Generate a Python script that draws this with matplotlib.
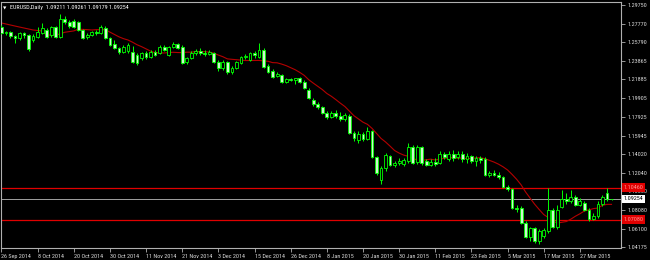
import numpy as np
import matplotlib
matplotlib.use("Agg")
import matplotlib.pyplot as plt
from matplotlib import font_manager
from matplotlib.transforms import blended_transform_factory

# ---------------- data (EURUSD Daily) ----------------
opens = [1.2742, 1.2679, 1.2690, 1.2647, 1.2626, 1.2679, 1.2658, 1.2605, 1.2637, 1.2679,
         1.2711, 1.2658, 1.2742, 1.2637, 1.2827, 1.2795, 1.2806, 1.2795, 1.2711, 1.2637,
         1.2658, 1.2690, 1.2679, 1.2732, 1.2626, 1.2563, 1.2521, 1.2478, 1.2489, 1.2478,
         1.2447, 1.2415, 1.2468, 1.2425, 1.2478, 1.2468, 1.2531, 1.2447, 1.2531, 1.2563,
         1.2531, 1.2373, 1.2415, 1.2468, 1.2489, 1.2468, 1.2457, 1.2468, 1.2373, 1.2309,
         1.2373, 1.2267, 1.2309, 1.2362, 1.2425, 1.2394, 1.2468, 1.2425, 1.2499, 1.2330,
         1.2277, 1.2225, 1.2235, 1.2161, 1.2193, 1.2182, 1.2203, 1.2161, 1.2077, 1.1971,
         1.1929, 1.1897, 1.1834, 1.1791, 1.1834, 1.1802, 1.1770, 1.1802, 1.1622, 1.1548,
         1.1612, 1.1559, 1.1643, 1.1369, 1.1126, 1.1253, 1.1379, 1.1284, 1.1305, 1.1295,
         1.1326, 1.1475, 1.1316, 1.1475, 1.1326, 1.1284, 1.1316, 1.1305, 1.1401, 1.1347,
         1.1401, 1.1369, 1.1401, 1.1347, 1.1379, 1.1326, 1.1358, 1.1347, 1.1179, 1.1200,
         1.1179, 1.1157, 1.1052, 1.1031, 1.0830, 1.0830, 1.0671, 1.0523, 1.0618, 1.0481,
         1.0534, 1.0587, 1.0809, 1.0629, 1.0840, 1.0925, 1.0904, 1.0946, 1.0862, 1.0883,
         1.0809, 1.0714, 1.0745, 1.0872, 1.0988, 1.09211]
highs = [1.2764, 1.2700, 1.2700, 1.2658, 1.2690, 1.2690, 1.2669, 1.2669, 1.2742, 1.2785,
         1.2732, 1.2753, 1.2753, 1.2880, 1.2859, 1.2816, 1.2827, 1.2806, 1.2721, 1.2679,
         1.2700, 1.2711, 1.2764, 1.2753, 1.2637, 1.2605, 1.2531, 1.2552, 1.2573, 1.2542,
         1.2468, 1.2478, 1.2489, 1.2499, 1.2499, 1.2552, 1.2552, 1.2542, 1.2584, 1.2573,
         1.2552, 1.2425, 1.2489, 1.2510, 1.2521, 1.2499, 1.2499, 1.2478, 1.2394, 1.2394,
         1.2383, 1.2330, 1.2383, 1.2436, 1.2457, 1.2478, 1.2489, 1.2573, 1.2521, 1.2351,
         1.2299, 1.2267, 1.2246, 1.2203, 1.2203, 1.2203, 1.2214, 1.2182, 1.2098, 1.1992,
         1.1950, 1.1908, 1.1855, 1.1855, 1.1865, 1.1844, 1.1834, 1.1823, 1.1643, 1.1643,
         1.1633, 1.1686, 1.1654, 1.1379, 1.1274, 1.1411, 1.1390, 1.1326, 1.1358, 1.1358,
         1.1517, 1.1496, 1.1496, 1.1485, 1.1347, 1.1347, 1.1358, 1.1432, 1.1422, 1.1432,
         1.1443, 1.1432, 1.1432, 1.1411, 1.1390, 1.1379, 1.1379, 1.1369, 1.1221, 1.1231,
         1.1210, 1.1168, 1.1073, 1.1041, 1.0862, 1.0851, 1.0692, 1.0629, 1.0629, 1.0608,
         1.0618, 1.1041, 1.0830, 1.0862, 1.1020, 1.0988, 1.1020, 1.0967, 1.0935, 1.0904,
         1.0830, 1.0777, 1.0904, 1.0967, 1.1041, 1.09261]
lows = [1.2669, 1.2658, 1.2626, 1.2573, 1.2605, 1.2626, 1.2489, 1.2584, 1.2626, 1.2669,
        1.2626, 1.2637, 1.2626, 1.2626, 1.2774, 1.2732, 1.2732, 1.2700, 1.2616, 1.2616,
        1.2647, 1.2658, 1.2669, 1.2616, 1.2542, 1.2510, 1.2457, 1.2468, 1.2468, 1.2362,
        1.2341, 1.2394, 1.2404, 1.2415, 1.2436, 1.2457, 1.2489, 1.2436, 1.2521, 1.2510,
        1.2351, 1.2351, 1.2404, 1.2447, 1.2447, 1.2436, 1.2447, 1.2362, 1.2277, 1.2288,
        1.2246, 1.2246, 1.2299, 1.2351, 1.2404, 1.2383, 1.2415, 1.2415, 1.2309, 1.2256,
        1.2203, 1.2214, 1.2151, 1.2151, 1.2172, 1.2140, 1.2151, 1.2087, 1.1982, 1.1908,
        1.1876, 1.1823, 1.1770, 1.1781, 1.1781, 1.1749, 1.1749, 1.1612, 1.1538, 1.1517,
        1.1538, 1.1548, 1.1358, 1.1179, 1.1083, 1.1221, 1.1274, 1.1263, 1.1284, 1.1274,
        1.1305, 1.1295, 1.1295, 1.1284, 1.1274, 1.1274, 1.1274, 1.1295, 1.1347, 1.1326,
        1.1326, 1.1347, 1.1316, 1.1305, 1.1305, 1.1274, 1.1305, 1.1168, 1.1157, 1.1168,
        1.1136, 1.1041, 1.1010, 1.0819, 1.0787, 1.0660, 1.0513, 1.0481, 1.0460, 1.0449,
        1.0513, 1.0566, 1.0618, 1.0608, 1.0830, 1.0872, 1.0883, 1.0851, 1.0851, 1.0798,
        1.0692, 1.0703, 1.0724, 1.0851, 1.0904, 1.09179]
closes = [1.2679, 1.2690, 1.2647, 1.2626, 1.2679, 1.2658, 1.2510, 1.2647, 1.2690, 1.2732,
          1.2637, 1.2742, 1.2637, 1.2827, 1.2795, 1.2753, 1.2742, 1.2711, 1.2626, 1.2658,
          1.2690, 1.2679, 1.2742, 1.2626, 1.2552, 1.2521, 1.2478, 1.2531, 1.2552, 1.2373,
          1.2362, 1.2468, 1.2425, 1.2478, 1.2447, 1.2531, 1.2499, 1.2531, 1.2563, 1.2521,
          1.2362, 1.2415, 1.2468, 1.2489, 1.2468, 1.2457, 1.2478, 1.2373, 1.2309, 1.2373,
          1.2267, 1.2309, 1.2373, 1.2425, 1.2436, 1.2468, 1.2447, 1.2499, 1.2320, 1.2267,
          1.2214, 1.2246, 1.2161, 1.2193, 1.2182, 1.2203, 1.2161, 1.2098, 1.1992, 1.1929,
          1.1897, 1.1834, 1.1791, 1.1834, 1.1802, 1.1770, 1.1813, 1.1622, 1.1570, 1.1612,
          1.1559, 1.1643, 1.1369, 1.1200, 1.1253, 1.1390, 1.1284, 1.1305, 1.1326, 1.1337,
          1.1475, 1.1305, 1.1475, 1.1305, 1.1284, 1.1316, 1.1295, 1.1401, 1.1369, 1.1401,
          1.1358, 1.1401, 1.1347, 1.1379, 1.1326, 1.1358, 1.1337, 1.1179, 1.1200, 1.1179,
          1.1157, 1.1052, 1.1031, 1.0830, 1.0819, 1.0671, 1.0523, 1.0618, 1.0481, 1.0587,
          1.0597, 1.0809, 1.0629, 1.0809, 1.0925, 1.0904, 1.0946, 1.0862, 1.0904, 1.0809,
          1.0714, 1.0745, 1.0872, 1.0946, 1.0921, 1.09254]

ma_period = 11
ma_start = [1.2785, 1.2774, 1.2764, 1.2753, 1.2742, 1.2732, 1.2721, 1.2711, 1.2705, 1.2700]

date_labels = ["26 Sep 2014", "8 Oct 2014", "20 Oct 2014", "30 Oct 2014", "11 Nov 2014",
               "21 Nov 2014", "3 Dec 2014", "15 Dec 2014", "26 Dec 2014", "8 Jan 2015",
               "20 Jan 2015", "30 Jan 2015", "11 Feb 2015", "23 Feb 2015", "5 Mar 2015",
               "17 Mar 2015", "27 Mar 2015"]
bars_per_label = 8

price_ticks = [1.29750, 1.27770, 1.25790, 1.23865, 1.21885, 1.19905, 1.17925,
               1.15945, 1.14020, 1.12040, 1.10060, 1.08080, 1.06100, 1.04175]

hlines = [1.10460, 1.07080]
bid = 1.09254
header = "EURUSD,Daily  1.09211 1.09261 1.09179 1.09254"

# ---------------- font: prefer a narrow face like the terminal's ----------------
names = {f.name for f in font_manager.fontManager.ttflist}
narrow = None
for cand in ["Liberation Sans Narrow", "DejaVu Sans Condensed", "Roboto Condensed",
             "Open Sans Condensed", "Noto Sans Condensed", "Arial Narrow"]:
    if cand in names:
        narrow = cand
        break
if narrow is None:
    for nm in sorted(names):
        if "Narrow" in nm or "Condensed" in nm:
            narrow = nm
            break
if narrow is None:
    narrow = "Roboto" if "Roboto" in names else "DejaVu Sans"
plt.rcParams['font.family'] = [narrow, 'DejaVu Sans']

# ---------------- figure ----------------
W, H = 650, 260
fig = plt.figure(figsize=(W / 100, H / 100), dpi=100, facecolor="black")
ax = fig.add_axes([1 / W, 12 / H, 620 / W, 246 / H], facecolor="black")

# choose a font size so that a date label is about 30 px wide, as in the reference
renderer = fig.canvas.get_renderer()
probe = fig.text(0, 0, "26 Sep 2014", fontsize=10)
wpx = probe.get_window_extent(renderer).width
probe.remove()
fs = min(5.6, 10 * 30.0 / wpx)

n = len(closes)
x = np.arange(n)
o = np.array(opens); h = np.array(highs); l = np.array(lows); c = np.array(closes)

# wicks
ax.vlines(x, l, h, colors="#00ff00", linewidth=0.7, zorder=3)
# bodies
bull = c >= o
bottoms = np.minimum(o, c)
heights = np.maximum(np.abs(c - o), 0.0002)
ax.bar(x[bull], heights[bull], bottom=bottoms[bull], width=0.62,
       color="black", edgecolor="#00ff00", linewidth=0.6, zorder=4)
ax.bar(x[~bull], heights[~bull], bottom=bottoms[~bull], width=0.62,
       color="#ccf5cc", edgecolor="#00ff00", linewidth=0.6, zorder=4)

# moving average
ma = list(ma_start)
for i in range(len(ma_start), n):
    lo = max(0, i - ma_period + 1)
    ma.append(float(np.mean(c[lo:i + 1])))
ax.plot(x, ma, color="#b40000", linewidth=0.8, zorder=2)

# horizontal lines and bid line
for v in hlines:
    ax.axhline(v, color="#e00000", linewidth=0.9, zorder=1)
ax.axhline(bid, color="#a0a0a0", linewidth=0.7, zorder=1)

ax.set_xlim(-0.1, 137.1)
ax.set_ylim(1.04069, 1.30067)

for s in ax.spines.values():
    s.set_color("#b0b0b0")
    s.set_linewidth(0.8)

# y axis on the right
ax.yaxis.tick_right()
ax.set_yticks(price_ticks)
ax.set_yticklabels([f"{v:.5f}" for v in price_ticks])
ax.tick_params(axis="y", colors="#b0b0b0", labelcolor="#d8d8d8", labelsize=fs,
               length=3, width=0.6, pad=2)

# x axis
ax.set_xticks([i * bars_per_label for i in range(len(date_labels))])
ax.set_xticklabels(date_labels, ha="left")
ax.tick_params(axis="x", colors="#b0b0b0", labelcolor="#d8d8d8", labelsize=fs,
               length=3, width=0.6, pad=1.5)

# price label boxes on the right
tr = blended_transform_factory(ax.transAxes, ax.transData)
for v in hlines:
    ax.text(1.004, v, f"{v:.5f}", transform=tr, fontsize=fs, color="#ff9090",
            va="center", ha="left", zorder=10, clip_on=False,
            bbox=dict(boxstyle="square,pad=0.3", facecolor="#e00000", edgecolor="none"))
ax.text(1.004, bid, f"{bid:.5f}", transform=tr, fontsize=fs, color="black",
        va="center", ha="left", zorder=10, clip_on=False,
        bbox=dict(boxstyle="square,pad=0.3", facecolor="white", edgecolor="none"))

# header
ax.text(0.004, 0.982, "\u25bc", transform=ax.transAxes, fontsize=3.2, color="white",
        va="top", ha="left", family=["DejaVu Sans"], zorder=10)
ax.text(0.015, 0.988, header, transform=ax.transAxes, fontsize=fs, color="white",
        va="top", ha="left", zorder=10)

fig.savefig("out.png", dpi=100, facecolor="black")
